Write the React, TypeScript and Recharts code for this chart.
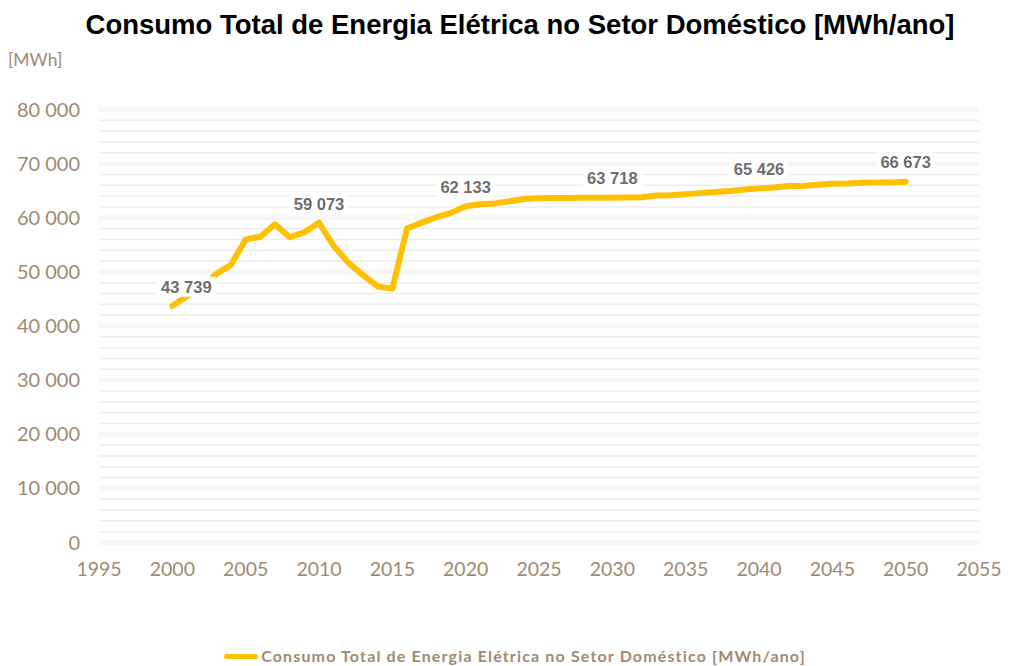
import { LineChart, Line, XAxis, YAxis, ReferenceLine, LabelList } from 'recharts';

const years = [
  2000, 2001, 2002, 2003, 2004, 2005, 2006, 2007, 2008, 2009,
  2010, 2011, 2012, 2013, 2014, 2015, 2016, 2017, 2018, 2019,
  2020, 2021, 2022, 2023, 2024, 2025, 2026, 2027, 2028, 2029,
  2030, 2031, 2032, 2033, 2034, 2035, 2036, 2037, 2038, 2039,
  2040, 2041, 2042, 2043, 2044, 2045, 2046, 2047, 2048, 2049, 2050,
];

const consumo = [
  43739, 45500, 47100, 49600, 51300, 56000, 56500, 58800, 56400, 57300,
  59073, 54800, 51700, 49400, 47300, 46900, 58000, 59100, 60100, 60900,
  62133, 62500, 62650, 63050, 63450, 63600, 63650, 63650, 63680, 63700,
  63718, 63730, 63800, 64100, 64150, 64350, 64550, 64750, 64950, 65200,
  65426, 65600, 65850, 65880, 66100, 66300, 66330, 66480, 66500, 66520, 66673,
];

const labeledYears = [2000, 2010, 2020, 2030, 2040, 2050];

const xTicks = [1995, 2000, 2005, 2010, 2015, 2020, 2025, 2030, 2035, 2040, 2045, 2050, 2055];
const yTicks = [0, 10000, 20000, 30000, 40000, 50000, 60000, 70000, 80000];
const minorGrid = yTicks.slice(0, -1).flatMap((t) => [2000, 4000, 6000, 8000].map((d) => t + d));

const seriesName = 'Consumo Total de Energia Elétrica no Setor Doméstico [MWh/ano]';

const data = years.map((year, i) => ({ year, value: consumo[i] }));

const fmt = (v: number) => String(v).replace(/\B(?=(\d{3})+(?!\d))/g, ' ');

const TAUPE = '#a08a72';
const YELLOW = '#FFC000';

function PointLabel(props: any) {
  const { x, y, index } = props;
  const year = years[index];
  if (!labeledYears.includes(year)) return null;
  const text = fmt(consumo[index]);
  const dx = index === 0 ? 14 : 0;
  const cx = x + dx;
  const cy = y - 19;
  const w = text.length * 8.8 + 6;
  return (
    <g>
      <rect x={cx - w / 2} y={cy - 10} width={w} height={20} fill="#ffffff" />
      <text
        x={cx}
        y={cy}
        dy="0.35em"
        textAnchor="middle"
        fontFamily="'Liberation Sans', Arial, sans-serif"
        fontWeight="bold"
        fontSize={16.5}
        fill="#6e6e6e"
      >
        {text}
      </text>
    </g>
  );
}

export default function App() {
  return (
    <div style={{ position: 'absolute', left: 0, top: 0, width: 1014, height: 666, background: '#fff' }}>
      <div
        style={{
          position: 'absolute',
          top: 8,
          left: 13,
          width: 1014,
          textAlign: 'center',
          fontFamily: "'Liberation Sans', Arial, sans-serif",
          fontWeight: 'bold',
          fontSize: 27.5,
          lineHeight: '34px',
          color: '#000',
        }}
      >
        {seriesName}
      </div>
      <div
        style={{
          position: 'absolute',
          top: 49,
          left: 8,
          fontFamily: 'Lato, sans-serif',
          fontSize: 17.5,
          lineHeight: '22px',
          color: TAUPE,
        }}
      >
        [MWh]
      </div>

      <LineChart width={1014} height={666} data={data} margin={{ top: 109.5, right: 35, left: 0, bottom: 93.5 }}>
        {minorGrid.map((v) => (
          <ReferenceLine key={'m' + v} y={v} stroke="#eeeeee" strokeWidth={1.5} />
        ))}
        {yTicks.map((v) => (
          <ReferenceLine key={'M' + v} y={v} stroke="#f6f6f6" strokeWidth={5} />
        ))}
        <XAxis
          dataKey="year"
          type="number"
          domain={[1995, 2055]}
          ticks={xTicks}
          axisLine={false}
          tickLine={false}
          tickSize={0}
          tickMargin={20}
          height={30}
          interval={0}
          tick={{ fontSize: 19.5, fill: TAUPE, fontFamily: 'Lato, sans-serif' }}
        />
        <YAxis
          type="number"
          domain={[0, 80000]}
          ticks={yTicks}
          axisLine={false}
          tickLine={false}
          tickSize={0}
          tickMargin={19}
          width={99}
          interval={0}
          tickFormatter={fmt}
          tick={{ fontSize: 20, fill: TAUPE, fontFamily: 'Lato, sans-serif' }}
        />
        <Line
          type="linear"
          dataKey="value"
          name={seriesName}
          stroke={YELLOW}
          strokeWidth={6}
          strokeLinecap="round"
          strokeLinejoin="round"
          dot={false}
          activeDot={false}
          isAnimationActive={false}
        >
          <LabelList dataKey="value" content={PointLabel} />
        </Line>
      </LineChart>

      <div
        style={{
          position: 'absolute',
          top: 646,
          left: 8,
          width: 1014,
          display: 'flex',
          justifyContent: 'center',
          alignItems: 'center',
          fontFamily: 'Lato, sans-serif',
          fontWeight: 'bold',
          fontSize: 16,
          lineHeight: '20px',
          color: TAUPE,
        }}
      >
        <span style={{ display: 'inline-block', width: 34, height: 5, borderRadius: 3, background: YELLOW, marginRight: 3 }} />
        <span style={{ letterSpacing: 1.15 }}>{seriesName}</span>
      </div>
    </div>
  );
}
